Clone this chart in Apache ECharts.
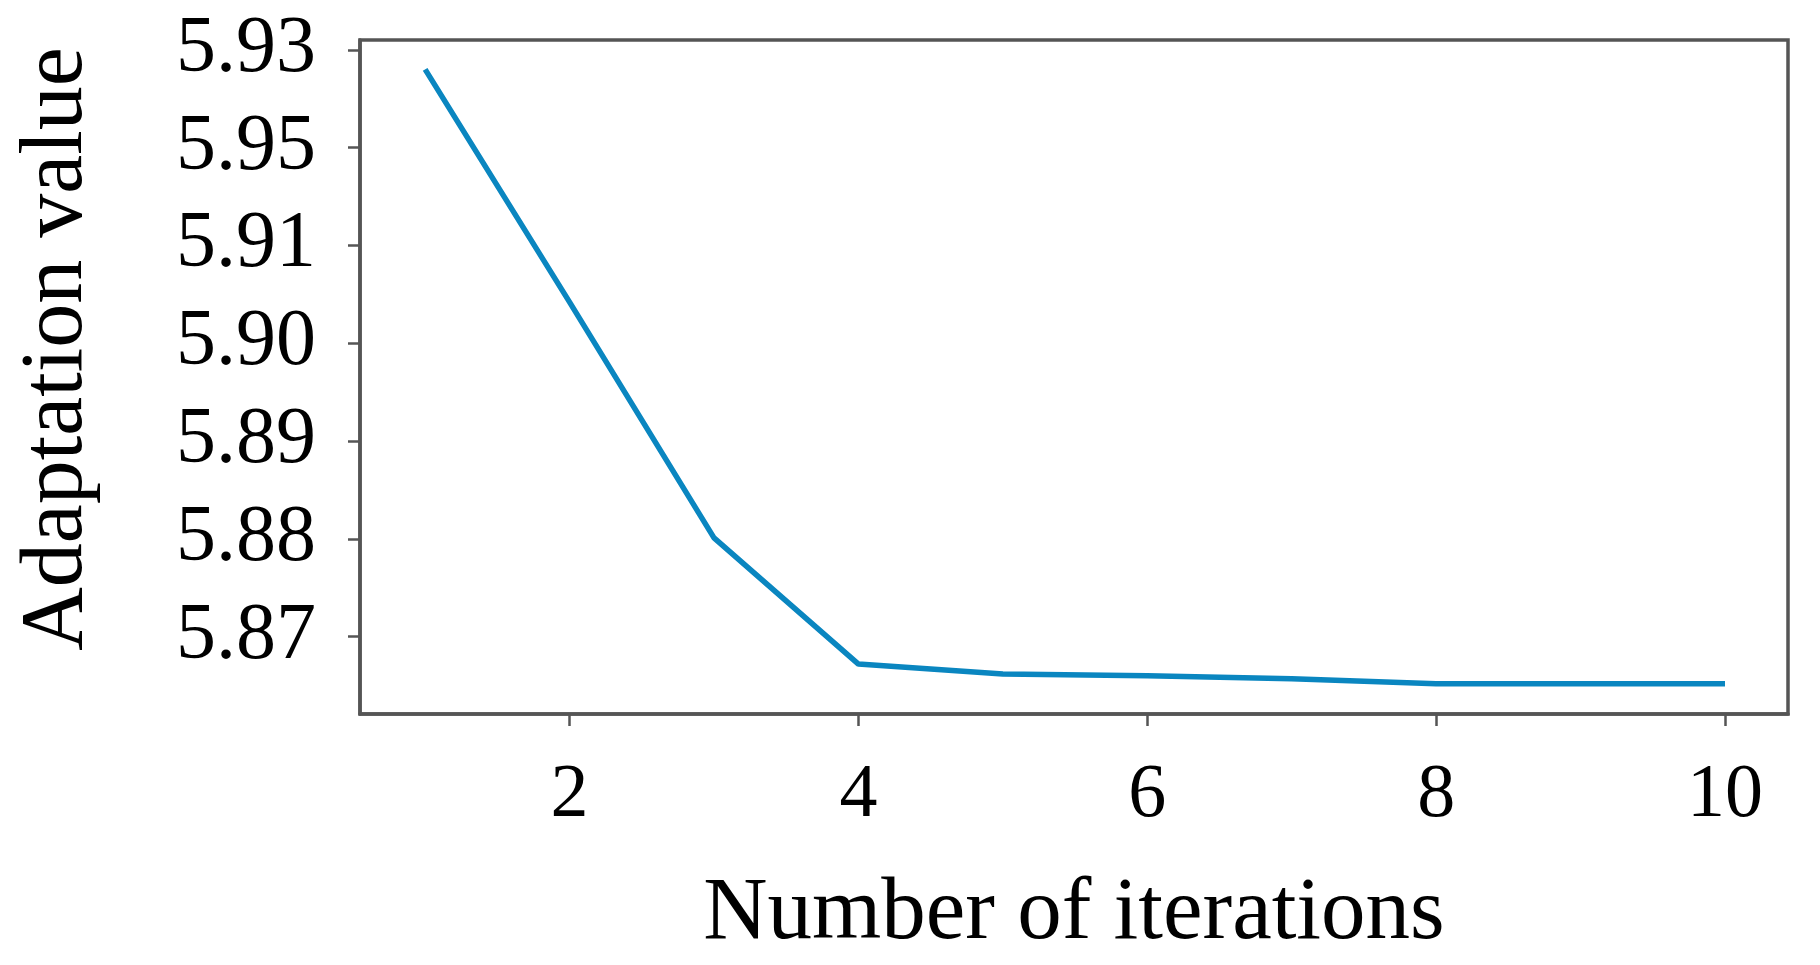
<!DOCTYPE html>
<html>
<head>
<meta charset="utf-8">
<script src="https://cdn.jsdelivr.net/npm/echarts@6/dist/echarts.min.js"></script>
<style>html,body{margin:0;padding:0;background:#fff}#c{width:1820px;height:965px}</style>
</head>
<body>
<div id="c"></div>
<script>
const iterations = [1, 2, 3, 4, 5, 6, 7, 8, 9, 10];
const adaptationValues = [5.928, 5.9042, 5.8801, 5.8672, 5.8662, 5.8660, 5.8657, 5.8652, 5.8652, 5.8652];
const yTickValues = [5.87, 5.88, 5.89, 5.90, 5.91, 5.92, 5.93];
const yTickLabels = ['5.87', '5.88', '5.89', '5.90', '5.91', '5.95', '5.93'];
const xTickValues = [2, 4, 6, 8, 10];
const xTickLabels = ['2', '4', '6', '8', '10'];

const chart = echarts.init(document.getElementById('c'));
const font = '"Liberation Serif", "Times New Roman", serif';
const axisColor = '#555555';
chart.setOption({
  animation: false,
  backgroundColor: '#fff',
  grid: { left: 360, right: 32, top: 40, bottom: 251, outerBoundsMode: 'none', containLabel: false,
    show: true, borderColor: axisColor, borderWidth: 3.5, backgroundColor: 'transparent' },
  xAxis: {
    type: 'value', min: 0.549, max: 10.436,
    name: 'Number of iterations', nameLocation: 'middle', nameGap: 156,
    nameTextStyle: { fontFamily: font, fontSize: 89, color: '#000' },
    axisLine: { show: true, lineStyle: { color: axisColor, width: 3.5 } },
    axisTick: { show: true, length: 12, customValues: xTickValues, lineStyle: { color: axisColor, width: 2.5 } },
    axisLabel: { customValues: xTickValues, margin: 44, fontFamily: font, fontSize: 76, color: '#000',
      formatter: v => xTickLabels[xTickValues.indexOf(Math.round(v))] },
    splitLine: { show: false }
  },
  yAxis: {
    type: 'value', min: 5.8621, max: 5.931,
    name: 'Adaptation value', nameLocation: 'middle', nameGap: 258, nameRotate: 90,
    nameTextStyle: { fontFamily: font, fontSize: 88, color: '#000', padding: [0, 0, 0, 56] },
    axisLine: { show: true, lineStyle: { color: axisColor, width: 3.5 } },
    axisTick: { show: true, length: 12, customValues: yTickValues, lineStyle: { color: axisColor, width: 2.5 } },
    axisLabel: { customValues: yTickValues, margin: 44, fontFamily: font, fontSize: 80, color: '#000',
      formatter: v => yTickLabels[Math.round((v - 5.87) / 0.01)] },
    splitLine: { show: false }
  },
  series: [{
    type: 'line',
    data: iterations.map((x, i) => [x, adaptationValues[i]]),
    showSymbol: false,
    lineStyle: { color: '#0a86c0', width: 5.5 },
    itemStyle: { color: '#0a86c0' }
  }]
});
</script>
</body>
</html>
